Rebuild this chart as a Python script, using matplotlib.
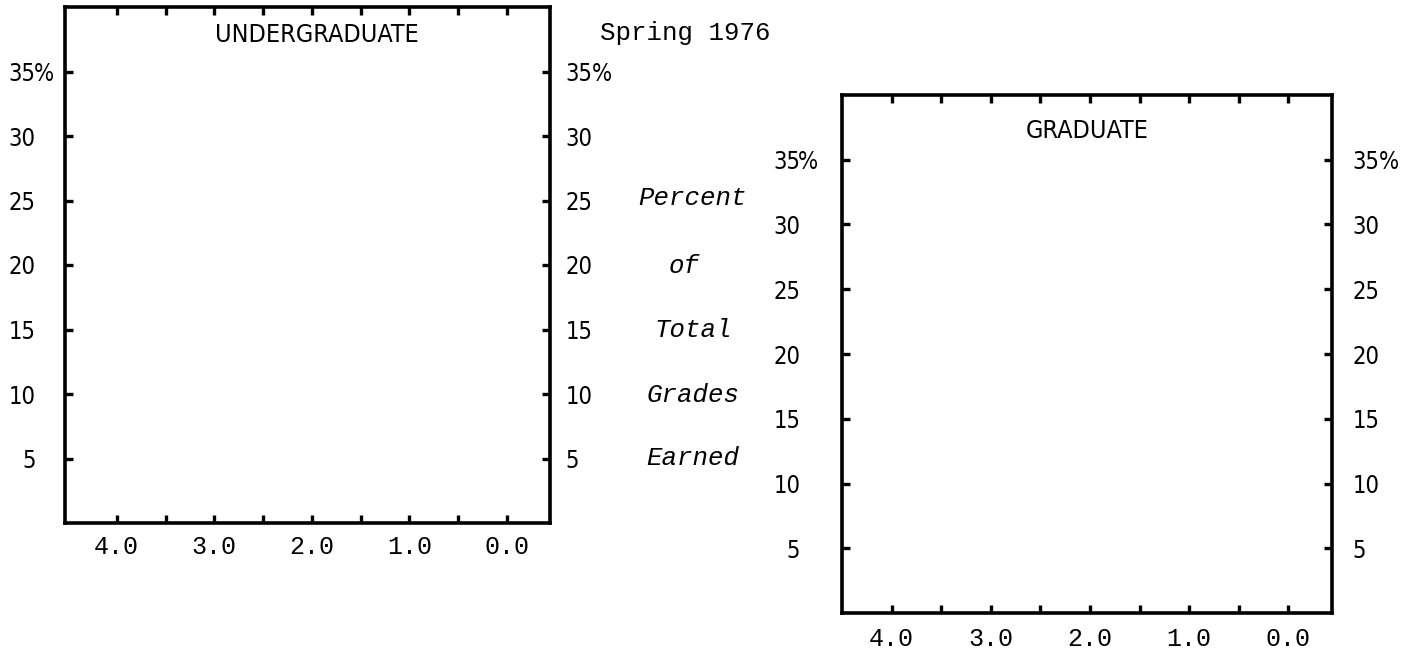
import matplotlib
matplotlib.use("Agg")
import matplotlib.pyplot as plt
from matplotlib.ticker import FixedLocator

# ---- data (chart is an empty frame: only axes, ticks and labels) ----
x_major = [4.0, 3.0, 2.0, 1.0, 0.0]
x_labels = ["4.0", "3.0", "2.0", "1.0", "0.0"]
x_minor = [3.5, 2.5, 1.5, 0.5]
y_ticks = [5, 10, 15, 20, 25, 30, 35]
y_labels = ["5", "10", "15", "20", "25", "30", "35"]
titles = ["UNDERGRADUATE", "GRADUATE"]
side_words = ["Percent", "of", "Total", "Grades", "Earned"]
header = "Spring 1976"

W, H = 1414, 654
fig = plt.figure(figsize=(W / 100, H / 100), dpi=100)

SANS = dict(family="DejaVu Sans", stretch="condensed")
MONO = ["Liberation Mono", "DejaVu Sans Mono"]
YFS = 17

def px_rect(x0, y0, x1, y1):
    return [x0 / W, 1 - y1 / H, (x1 - x0) / W, (y1 - y0) / H]

def frame(rect, title, title_x, title_y, lpad, rpad, xpad, xlim):
    ax = fig.add_axes(rect)
    ax.set_xlim(*xlim)
    ax.set_ylim(0, 40)
    for s in ax.spines.values():
        s.set_linewidth(2.6)
        s.set_color("black")
    ax.xaxis.set_major_locator(FixedLocator(x_major))
    ax.xaxis.set_minor_locator(FixedLocator(x_minor))
    ax.set_xticklabels(x_labels, family=MONO, fontsize=18)
    ax.yaxis.set_major_locator(FixedLocator(y_ticks))
    ax.set_yticklabels(y_labels, fontsize=YFS, **SANS)
    ax.tick_params(axis="both", which="both", direction="in", length=6,
                   width=2.4, color="black", top=True, right=True)
    ax.tick_params(axis="x", which="major", pad=xpad)
    ax.tick_params(axis="y", which="major", pad=lpad)
    # right-hand labels through a twin axis
    ay = ax.twinx()
    ay.set_ylim(0, 40)
    ay.yaxis.set_major_locator(FixedLocator(y_ticks))
    ay.set_yticklabels(y_labels[:-1] + ["35%"], fontsize=YFS, **SANS)
    ay.tick_params(axis="y", direction="in", length=6, width=2.4, pad=rpad)
    for s in ay.spines.values():
        s.set_visible(False)
    # hanging percent sign after the top left label
    ax.annotate("%", xy=(0, 35), xycoords=("axes fraction", "data"),
                xytext=(-lpad - 1.5, 0), textcoords="offset points",
                ha="left", va="center_baseline", fontsize=YFS, **SANS)
    ax.text(title_x, 1 - title_y, title, transform=ax.transAxes,
            ha="center", va="center", fontsize=18, **SANS)
    ax.set_facecolor("white")
    return ax

ax1 = frame(px_rect(65, 7, 550, 523), titles[0], 0.52, 28 / 516, 21, 11, 9, (4.53, -0.44))
ax2 = frame(px_rect(842, 95, 1332, 613), titles[1], 0.5, 36 / 518, 30, 15, 10, (4.5, -0.44))

fig.text(685 / W, 1 - 33 / H, header, ha="center", va="center",
         family=MONO, fontsize=18.5)
word_y = [198, 266, 330, 395, 458]
word_x = [693, 684, 693, 693, 693]
for w, xx, yy in zip(side_words, word_x, word_y):
    fig.text(xx / W, 1 - yy / H, w, ha="center", va="center",
             family=MONO, style="italic", fontsize=18.5)

fig.savefig("out.png", dpi=100, facecolor="white")
